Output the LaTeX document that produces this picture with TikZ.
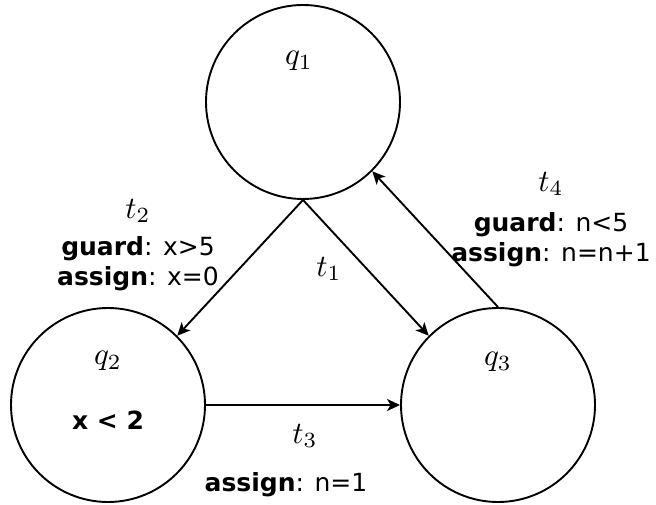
\documentclass[tikz,border=0pt]{standalone}
\usepackage{fontspec}
\setmainfont{DejaVu Sans}
\usetikzlibrary{arrows.meta}
\usetikzlibrary{positioning}

\newcommand{\bigmath}[1]{\scalebox{3.1}{$#1$}}

\begin{document}
\begin{tikzpicture}[
					x=1pt, y=1pt,
					state/.style={draw, circle, line width=1.9pt, minimum size=194pt, inner sep=0pt},
					trans/.style={-{Stealth[length=13pt, width=12pt, inset=3.5pt]}, line width=1.9pt},
					lbl/.style={align=center, font=\fontsize{25}{30}\selectfont, inner sep=0pt},
					mlbl/.style={inner sep=0pt}
				]
					\useasboundingbox (0,0) rectangle (656,504);
					\node[state] (q1) at (303,402) {};
					\node[state] (q2) at (108,99) {};
					\node[state] (q3) at (498,99) {};
					% state labels
					\node[mlbl] (q1name) at (299,443) {\bigmath{q_1}};
					\node[mlbl] (q2name) at (108,143) {\bigmath{q_2}};
					\node[mlbl] (q3name) at (498,142) {\bigmath{q_3}};
					\node[lbl] (q2inv) at (108,84) {\textbf{x < 2}};
					% transitions
					\draw[trans] (q1.south) -- (q2.north east);
					\draw[trans] (q1.south) -- (q3.north west);
					\draw[trans] (q2.east) -- (q3.west);
					\draw[trans] (q3.north) -- (q1.south east);
					\node[mlbl] (t2) at (138,293) {\bigmath{t_2}};
					\node[lbl, below=13pt of t2] (t2cond) {\textbf{guard}: x>5\\ \textbf{assign}: x=0};
					\node[mlbl] (t1) at (329,235) {\bigmath{t_1}};
					\node[mlbl] (t4) at (551,320) {\bigmath{t_4}};
					\node[lbl, below=16pt of t4] (t4cond) {\textbf{guard}: n<5\\ \textbf{assign}: n=n+1};
					\node[mlbl] (t3) at (305,68) {\bigmath{t_3}};
					\node[lbl] (t3as) at (286,19) {\textbf{assign}: n=1};
				\end{tikzpicture}
\end{document}
